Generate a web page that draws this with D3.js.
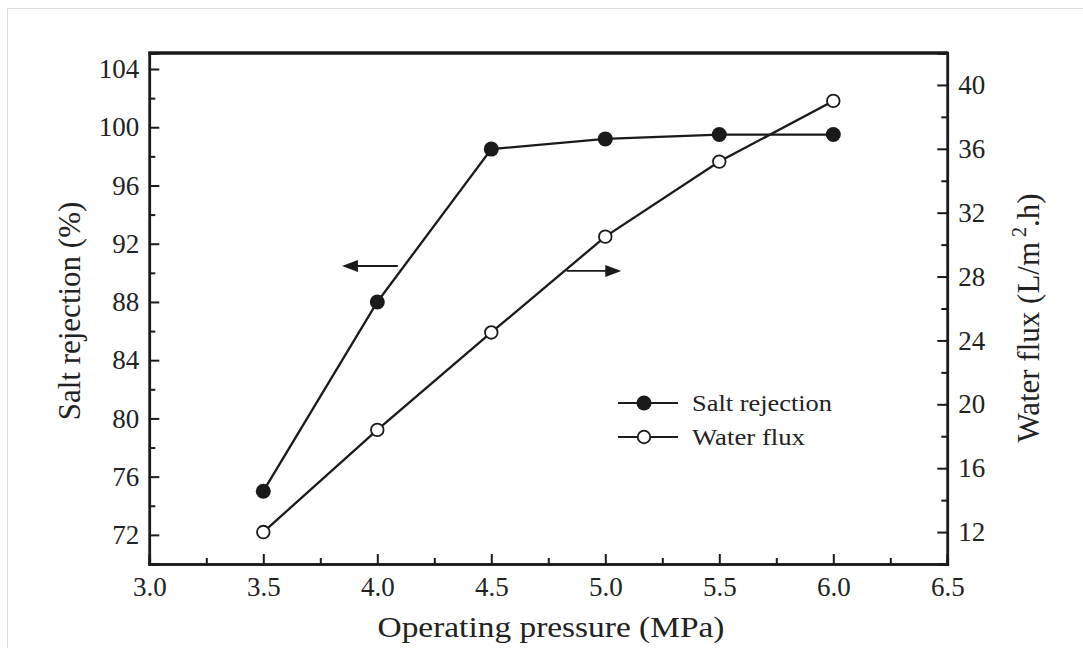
<!DOCTYPE html>
<html>
<head>
<meta charset="utf-8">
<script src="https://cdn.jsdelivr.net/npm/d3@7"></script>
<style>
  body { margin: 0; background: #fff; }
  svg { display: block; }
  text { font-family: "Liberation Serif", "Times New Roman", serif; fill: #222; }
</style>
</head>
<body>
<div id="chart"></div>
<script>
// data
const pressure = [3.5, 4.0, 4.5, 5.0, 5.5, 6.0];
const saltRejection = [75.0, 88.0, 98.5, 99.2, 99.5, 99.5];
const waterFlux = [12.0, 18.4, 24.5, 30.5, 35.2, 39.0];

const xTicks = [3.0, 3.5, 4.0, 4.5, 5.0, 5.5, 6.0, 6.5];
const xMinor = [3.25, 3.75, 4.25, 4.75, 5.25, 5.75, 6.25];
const leftTicks = [72, 76, 80, 84, 88, 92, 96, 100, 104];
const leftMinor = [74, 78, 82, 86, 90, 94, 98, 102];
const rightTicks = [12, 16, 20, 24, 28, 32, 36, 40];
const rightMinor = [14, 18, 22, 26, 30, 34, 38];

const legendNames = ["Salt rejection", "Water flux"];

const width = 1083, height = 648;
const plotLeft = 149.3, plotRight = 947.3, plotTop = 53, plotBottom = 564;
const ink = "#1a1a1a";

const svg = d3.select("#chart").append("svg")
  .attr("width", width)
  .attr("height", height);

// faint frame round the picture
svg.append("rect")
  .attr("x", 7.5).attr("y", 8.5)
  .attr("width", 1100).attr("height", 700)
  .attr("fill", "none").attr("stroke", "#ddd");

const x = d3.scaleLinear().domain([3.0, 6.5]).range([plotLeft, plotRight]);
const yL = d3.scaleLinear().domain([70, 105.1]).range([plotBottom, plotTop]);
const yR = d3.scaleLinear().domain([10, 42]).range([plotBottom, plotTop]);

function styleAxis(g) {
  g.select(".domain").attr("stroke", ink).attr("stroke-width", 2.5);
  g.selectAll(".tick line").attr("stroke", ink).attr("stroke-width", 2);
  g.selectAll(".tick text").attr("fill", "#222")
    .style("font-size", "27px")
    .style("font-family", '"Liberation Serif", "Times New Roman", serif');
}

// minor ticks first
svg.append("g").attr("transform", `translate(0, ${plotBottom})`)
  .call(d3.axisBottom(x).tickValues(xMinor).tickSize(-6).tickFormat(""))
  .call(styleAxis);
svg.append("g").attr("transform", `translate(${plotLeft}, 0)`)
  .call(d3.axisLeft(yL).tickValues(leftMinor).tickSize(-6).tickFormat(""))
  .call(styleAxis);
svg.append("g").attr("transform", `translate(${plotRight}, 0)`)
  .call(d3.axisRight(yR).tickValues(rightMinor).tickSize(-6).tickFormat(""))
  .call(styleAxis);

// major ticks with labels
svg.append("g").attr("transform", `translate(0, ${plotBottom})`)
  .call(d3.axisBottom(x).tickValues(xTicks).tickSize(-10).tickPadding(13).tickFormat(d3.format(".1f")))
  .call(styleAxis);
svg.append("g").attr("transform", `translate(${plotLeft}, 0)`)
  .call(d3.axisLeft(yL).tickValues(leftTicks).tickSize(-10).tickPadding(10))
  .call(styleAxis);
svg.append("g").attr("transform", `translate(${plotRight}, 0)`)
  .call(d3.axisRight(yR).tickValues(rightTicks).tickSize(-10).tickPadding(11))
  .call(styleAxis);

// top border, heavier
svg.append("line")
  .attr("x1", plotLeft - 1).attr("x2", plotRight + 1)
  .attr("y1", plotTop).attr("y2", plotTop)
  .attr("stroke", ink).attr("stroke-width", 3.5);

// axis titles
svg.append("text")
  .attr("x", 551).attr("y", 637)
  .attr("text-anchor", "middle")
  .attr("textLength", 347).attr("lengthAdjust", "spacingAndGlyphs")
  .style("font-size", "30px")
  .text("Operating pressure (MPa)");

svg.append("text")
  .attr("transform", "translate(80, 311) rotate(-90)")
  .attr("text-anchor", "middle")
  .style("font-size", "31px")
  .text("Salt rejection (%)");

const rt = svg.append("text")
  .attr("transform", "translate(1039, 318) rotate(-90)")
  .attr("text-anchor", "middle")
  .style("font-size", "31px");
rt.append("tspan").text("Water flux (L/m");
rt.append("tspan").attr("dy", -13).style("font-size", "20px").text(" 2");
rt.append("tspan").attr("dy", 13).text(".h)");

// series lines
const lineSalt = d3.line().x((d, i) => x(pressure[i])).y(d => yL(d));
const lineFlux = d3.line().x((d, i) => x(pressure[i])).y(d => yR(d));

svg.append("path").datum(saltRejection)
  .attr("d", lineSalt)
  .attr("fill", "none").attr("stroke", ink).attr("stroke-width", 2.3);
svg.append("path").datum(waterFlux)
  .attr("d", lineFlux)
  .attr("fill", "none").attr("stroke", ink).attr("stroke-width", 2.3);

svg.selectAll(".salt").data(saltRejection).enter().append("circle")
  .attr("cx", (d, i) => x(pressure[i])).attr("cy", d => yL(d))
  .attr("r", 7.5).attr("fill", ink);
svg.selectAll(".flux").data(waterFlux).enter().append("circle")
  .attr("cx", (d, i) => x(pressure[i])).attr("cy", d => yR(d))
  .attr("r", 6.3).attr("fill", "#fff").attr("stroke", ink).attr("stroke-width", 1.8);

// arrows telling which axis each curve uses
function arrow(x1, x2, yPix) {
  const dir = Math.sign(x2 - x1);
  svg.append("line")
    .attr("x1", x1).attr("x2", x2 - dir * 12)
    .attr("y1", yPix).attr("y2", yPix)
    .attr("stroke", ink).attr("stroke-width", 1.8);
  svg.append("path")
    .attr("d", `M${x2},${yPix} L${x2 - dir * 16},${yPix - 6} L${x2 - dir * 16},${yPix + 6} Z`)
    .attr("fill", ink);
}
arrow(x(4.09), x(3.845), yL(90.47));
arrow(x(4.83), x(5.07), yR(28.35));

// legend
const legY = [403, 437];
legendNames.forEach((name, i) => {
  svg.append("line")
    .attr("x1", 618).attr("x2", 678)
    .attr("y1", legY[i]).attr("y2", legY[i])
    .attr("stroke", ink).attr("stroke-width", 2.2);
  const c = svg.append("circle").attr("cx", 644).attr("cy", legY[i]);
  if (i == 0) c.attr("r", 7.5).attr("fill", ink);
  else c.attr("r", 6.3).attr("fill", "#fff").attr("stroke", ink).attr("stroke-width", 1.8);
  svg.append("text")
    .attr("x", 692).attr("y", legY[i] + 8)
    .attr("textLength", i == 0 ? 140 : 113).attr("lengthAdjust", "spacingAndGlyphs")
    .style("font-size", "23px")
    .text(name);
});
</script>
</body>
</html>
